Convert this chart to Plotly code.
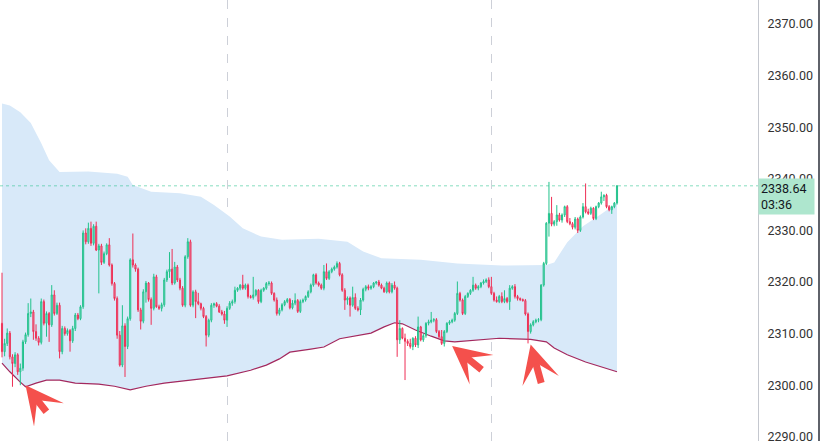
import plotly.graph_objects as go

# ---- price data (one candle per bar index) ----
opens = [2312.0, 2306.5, 2308.1, 2310.1, 2305.5, 2304.2, 2305.9, 2302.6, 2303.3, 2308.4,
         2309.8, 2313.9, 2314.2, 2310.4, 2309.1, 2308.3, 2316.2, 2312.0, 2313.9, 2311.7,
         2317.5, 2313.9, 2315.5, 2306.5, 2311.0, 2310.0, 2310.6, 2308.6, 2311.0, 2313.6,
         2312.9, 2315.2, 2329.5, 2327.8, 2330.4, 2327.5, 2330.8, 2326.2, 2327.0, 2323.8,
         2325.5, 2327.2, 2323.3, 2319.7, 2316.8, 2309.7, 2303.9, 2311.5, 2307.5, 2312.9,
         2324.3, 2323.3, 2322.5, 2314.6, 2312.4, 2318.1, 2319.8, 2316.6, 2314.9, 2321.0,
         2315.2, 2314.9, 2315.6, 2320.4, 2322.0, 2322.5, 2319.8, 2322.9, 2320.4, 2318.8,
         2315.5, 2324.9, 2327.8, 2315.5, 2318.1, 2316.2, 2315.8, 2314.9, 2313.3, 2309.7,
         2312.6, 2315.5, 2315.8, 2315.3, 2314.2, 2313.8, 2312.6, 2314.9, 2315.9, 2316.2,
         2318.4, 2318.8, 2319.4, 2318.8, 2319.4, 2317.2, 2317.0, 2317.5, 2318.4, 2316.2,
         2318.4, 2318.8, 2319.7, 2319.8, 2317.8, 2316.5, 2313.9, 2314.6, 2315.6, 2316.2,
         2316.6, 2315.0, 2315.9, 2316.4, 2314.3, 2316.2, 2316.5, 2317.2, 2318.1, 2319.4,
         2321.4, 2319.8, 2319.4, 2318.8, 2322.0, 2320.7, 2322.0, 2322.5, 2322.9, 2323.6,
         2321.4, 2318.4, 2316.5, 2316.9, 2315.5, 2317.0, 2314.9, 2314.6, 2316.5, 2318.6,
         2319.1, 2318.8, 2319.1, 2319.8, 2320.0, 2319.4, 2318.8, 2318.1, 2319.8, 2318.1,
         2319.4, 2318.8, 2308.8, 2311.0, 2309.1, 2308.5, 2308.1, 2307.5, 2309.1, 2307.8,
         2311.3, 2308.8, 2309.6, 2312.0, 2312.3, 2312.6, 2312.7, 2310.4, 2309.4, 2308.1,
         2310.4, 2312.0, 2312.3, 2312.6, 2313.9, 2317.8, 2316.5, 2313.9, 2317.2, 2317.8,
         2318.4, 2319.4, 2318.8, 2319.1, 2319.8, 2320.1, 2320.4, 2319.1, 2317.8, 2316.5,
         2316.2, 2317.2, 2316.2, 2316.8, 2316.2, 2318.8, 2319.1, 2317.2, 2316.8, 2316.6,
         2316.4, 2313.8, 2310.4, 2311.7, 2312.3, 2312.6, 2312.7, 2319.4, 2323.6, 2331.4,
         2333.3, 2331.2, 2331.7, 2333.0, 2332.0, 2333.0, 2334.6, 2331.7, 2331.3, 2330.6,
         2332.2, 2330.0, 2332.6, 2334.6, 2333.6, 2333.3, 2334.3, 2332.3, 2334.6, 2335.3,
         2336.5, 2336.8, 2334.6, 2334.0, 2334.6, 2335.3]
highs = [2321.8, 2309.0, 2311.0, 2310.5, 2306.0, 2306.4, 2306.2, 2304.2, 2308.8, 2310.2,
         2315.9, 2316.8, 2314.6, 2311.8, 2309.5, 2316.8, 2316.6, 2314.3, 2314.2, 2319.4,
         2318.4, 2316.0, 2316.0, 2311.5, 2311.4, 2311.0, 2310.9, 2311.5, 2314.0, 2314.0,
         2315.5, 2330.0, 2330.4, 2331.5, 2331.7, 2331.2, 2331.7, 2327.4, 2327.4, 2325.9,
         2327.5, 2328.5, 2323.6, 2320.0, 2317.2, 2310.5, 2315.5, 2312.0, 2313.3, 2324.6,
         2329.4, 2323.6, 2322.8, 2315.0, 2318.6, 2320.2, 2320.0, 2317.0, 2321.6, 2321.4,
         2315.6, 2316.0, 2320.8, 2322.4, 2325.8, 2326.4, 2323.9, 2323.3, 2320.8, 2319.2,
         2325.2, 2328.5, 2328.2, 2318.4, 2318.5, 2317.9, 2316.0, 2315.2, 2313.6, 2312.9,
         2315.9, 2316.0, 2316.1, 2315.7, 2314.6, 2314.4, 2315.3, 2316.3, 2316.6, 2319.1,
         2319.0, 2319.6, 2321.4, 2319.7, 2319.7, 2317.5, 2321.0, 2318.6, 2318.6, 2318.7,
         2319.0, 2320.0, 2320.2, 2320.1, 2318.0, 2317.0, 2315.0, 2315.9, 2316.5, 2316.9,
         2316.9, 2316.5, 2317.8, 2316.7, 2316.6, 2316.8, 2317.4, 2318.4, 2319.7, 2321.6,
         2321.7, 2320.1, 2319.7, 2323.3, 2323.6, 2322.3, 2322.8, 2323.2, 2324.0, 2323.9,
         2321.7, 2318.8, 2317.2, 2317.2, 2319.1, 2317.8, 2315.3, 2316.9, 2318.9, 2319.4,
         2319.5, 2319.4, 2320.0, 2320.2, 2320.4, 2319.7, 2319.1, 2320.1, 2320.1, 2319.8,
         2320.1, 2319.1, 2312.6, 2311.2, 2310.0, 2308.9, 2309.0, 2309.3, 2309.5, 2313.3,
         2311.5, 2310.0, 2312.2, 2312.7, 2314.2, 2313.0, 2313.0, 2310.7, 2310.7, 2310.7,
         2312.2, 2312.6, 2312.9, 2314.2, 2320.1, 2318.1, 2316.8, 2317.5, 2318.0, 2318.6,
         2321.0, 2319.7, 2319.4, 2320.0, 2320.5, 2320.7, 2320.9, 2321.0, 2318.1, 2317.2,
         2317.5, 2318.0, 2318.4, 2317.1, 2319.4, 2319.4, 2319.6, 2317.5, 2317.0, 2316.8,
         2316.7, 2314.1, 2312.0, 2312.6, 2312.9, 2313.0, 2319.6, 2323.9, 2331.6, 2339.4,
         2336.5, 2332.0, 2334.9, 2333.4, 2333.3, 2334.8, 2334.9, 2332.4, 2331.6, 2332.6,
         2332.5, 2332.9, 2335.3, 2339.1, 2334.2, 2334.6, 2334.5, 2334.8, 2335.5, 2337.5,
         2337.0, 2337.1, 2334.9, 2334.8, 2335.5, 2338.8]
lows = [2305.4, 2305.6, 2307.6, 2305.0, 2299.7, 2303.5, 2302.0, 2300.0, 2302.8, 2308.0,
        2309.4, 2313.2, 2308.8, 2308.6, 2307.7, 2307.9, 2311.6, 2309.4, 2308.4, 2311.3,
        2313.5, 2313.6, 2305.2, 2306.0, 2309.6, 2309.6, 2306.5, 2308.2, 2310.5, 2312.6,
        2312.6, 2314.8, 2327.3, 2327.4, 2327.0, 2327.1, 2326.0, 2317.8, 2323.3, 2323.5,
        2325.2, 2323.0, 2319.3, 2316.4, 2309.0, 2303.6, 2303.5, 2301.6, 2307.0, 2312.5,
        2322.8, 2322.0, 2314.2, 2310.8, 2312.0, 2316.0, 2316.2, 2311.7, 2314.5, 2315.0,
        2314.6, 2314.3, 2315.2, 2320.0, 2320.8, 2319.4, 2319.5, 2320.0, 2318.4, 2315.2,
        2315.1, 2324.5, 2315.2, 2315.1, 2313.0, 2315.5, 2314.5, 2313.0, 2307.5, 2309.3,
        2312.2, 2315.0, 2315.1, 2314.0, 2313.5, 2311.9, 2311.3, 2314.6, 2315.4, 2315.8,
        2318.1, 2318.4, 2318.5, 2318.5, 2316.8, 2316.8, 2316.6, 2317.2, 2315.8, 2315.9,
        2318.1, 2318.5, 2319.3, 2317.5, 2316.2, 2313.5, 2313.5, 2314.3, 2315.3, 2315.9,
        2314.7, 2314.7, 2315.5, 2314.0, 2314.0, 2315.9, 2316.2, 2316.9, 2317.8, 2319.1,
        2319.5, 2319.1, 2318.5, 2318.4, 2320.4, 2320.4, 2321.7, 2322.2, 2322.6, 2321.1,
        2318.1, 2314.6, 2315.6, 2313.3, 2315.2, 2314.6, 2314.3, 2313.6, 2316.2, 2318.2,
        2318.4, 2318.5, 2318.8, 2319.5, 2319.1, 2318.6, 2317.9, 2317.8, 2317.8, 2317.8,
        2318.5, 2305.5, 2308.0, 2308.9, 2301.0, 2307.6, 2307.1, 2306.8, 2307.4, 2307.2,
        2308.5, 2308.4, 2309.2, 2311.6, 2312.0, 2312.2, 2310.1, 2309.1, 2307.8, 2307.5,
        2310.1, 2311.7, 2312.0, 2312.3, 2313.6, 2316.2, 2313.6, 2313.6, 2316.9, 2317.5,
        2318.1, 2318.5, 2318.4, 2318.8, 2319.5, 2319.8, 2318.8, 2317.5, 2316.2, 2316.0,
        2315.9, 2315.9, 2315.9, 2315.9, 2314.6, 2318.5, 2316.8, 2316.4, 2316.3, 2316.2,
        2313.5, 2308.1, 2310.0, 2311.4, 2312.0, 2312.2, 2312.4, 2319.1, 2323.3, 2328.8,
        2330.8, 2330.8, 2330.9, 2331.7, 2331.5, 2332.6, 2331.4, 2331.0, 2330.2, 2330.2,
        2329.5, 2329.7, 2332.3, 2333.3, 2333.0, 2333.0, 2332.0, 2332.0, 2334.3, 2335.0,
        2335.7, 2334.3, 2333.7, 2333.2, 2334.3, 2335.0]
closes = [2306.5, 2308.1, 2310.1, 2305.5, 2304.2, 2305.9, 2302.6, 2303.3, 2308.4, 2309.8,
          2313.9, 2314.2, 2310.4, 2309.1, 2308.3, 2316.2, 2312.0, 2313.9, 2311.7, 2317.5,
          2313.9, 2315.5, 2306.5, 2311.0, 2310.0, 2310.6, 2308.6, 2311.0, 2313.6, 2312.9,
          2315.2, 2329.5, 2327.8, 2330.4, 2327.5, 2330.8, 2326.2, 2327.0, 2323.8, 2325.5,
          2327.2, 2323.3, 2319.7, 2316.8, 2309.7, 2303.9, 2311.5, 2307.5, 2312.9, 2324.3,
          2323.3, 2322.5, 2314.6, 2312.4, 2318.1, 2319.8, 2316.6, 2314.9, 2321.0, 2315.2,
          2314.9, 2315.6, 2320.4, 2322.0, 2322.5, 2319.8, 2322.9, 2320.4, 2318.8, 2315.5,
          2324.9, 2327.8, 2315.5, 2318.1, 2316.2, 2315.8, 2314.9, 2313.3, 2309.7, 2312.6,
          2315.5, 2315.8, 2315.3, 2314.2, 2313.8, 2312.6, 2314.9, 2315.9, 2316.2, 2318.4,
          2318.8, 2319.4, 2318.8, 2319.4, 2317.2, 2317.0, 2317.5, 2318.4, 2316.2, 2318.4,
          2318.8, 2319.7, 2319.8, 2317.8, 2316.5, 2313.9, 2314.6, 2315.6, 2316.2, 2316.6,
          2315.0, 2315.9, 2316.4, 2314.3, 2316.2, 2316.5, 2317.2, 2318.1, 2319.4, 2321.4,
          2319.8, 2319.4, 2318.8, 2322.0, 2320.7, 2322.0, 2322.5, 2322.9, 2323.6, 2321.4,
          2318.4, 2316.5, 2316.9, 2315.5, 2317.0, 2314.9, 2314.6, 2316.5, 2318.6, 2319.1,
          2318.8, 2319.1, 2319.8, 2320.0, 2319.4, 2318.8, 2318.1, 2319.8, 2318.1, 2319.4,
          2318.8, 2308.8, 2311.0, 2309.1, 2308.5, 2308.1, 2307.5, 2309.1, 2307.8, 2311.3,
          2308.8, 2309.6, 2312.0, 2312.3, 2312.6, 2312.7, 2310.4, 2309.4, 2308.1, 2310.4,
          2312.0, 2312.3, 2312.6, 2313.9, 2317.8, 2316.5, 2313.9, 2317.2, 2317.8, 2318.4,
          2319.4, 2318.8, 2319.1, 2319.8, 2320.1, 2320.4, 2319.1, 2317.8, 2316.5, 2316.2,
          2317.2, 2316.2, 2316.8, 2316.2, 2318.8, 2319.1, 2317.2, 2316.8, 2316.6, 2316.4,
          2313.8, 2310.4, 2311.7, 2312.3, 2312.6, 2312.7, 2319.4, 2323.6, 2331.4, 2333.3,
          2331.2, 2331.7, 2333.0, 2332.0, 2333.0, 2334.6, 2331.7, 2331.3, 2330.6, 2332.2,
          2330.0, 2332.6, 2334.6, 2333.6, 2333.3, 2334.3, 2332.3, 2334.6, 2335.3, 2336.5,
          2336.8, 2334.6, 2334.0, 2334.6, 2335.3, 2338.64]
bars = list(range(len(closes)))

# ---- envelope indicator, sampled at these bars ----
upper_bars = [0, 3, 7, 11, 15, 18, 22, 33, 44, 48, 50, 57, 68, 76, 81, 87, 92, 99, 107,
              121, 132, 138, 145, 160, 174, 191, 208, 211, 216, 222, 229, 235]
upper_vals = [2354.6, 2354.2, 2352.9, 2350.8, 2346.9, 2343.6, 2341.3, 2341.4, 2341.0,
              2340.4, 2338.8, 2337.5, 2337.2, 2336.5, 2334.9, 2332.7, 2330.4, 2328.8,
              2328.2, 2328.4, 2327.8, 2325.9, 2324.6, 2324.3, 2323.6, 2323.2, 2323.3,
              2323.8, 2327.7, 2330.8, 2333.2, 2335.3]
lower_bars = [0, 3, 7, 9, 13, 17, 22, 28, 37, 43, 49, 55, 62, 76, 86, 95, 101, 106, 110,
              118, 123, 129, 135, 141, 146, 150, 153, 158, 164, 169, 173, 179, 190, 202,
              208, 211, 216, 223, 229, 235]
lower_vals = [2304.3, 2302.6, 2300.6, 2299.7, 2300.4, 2301.0, 2301.0, 2300.4, 2300.2,
              2299.8, 2299.1, 2299.8, 2300.4, 2301.2, 2301.8, 2302.9, 2303.9, 2305.1,
              2306.4, 2307.0, 2307.4, 2309.0, 2309.5, 2310.1, 2311.3, 2312.1, 2311.9,
              2310.7, 2309.5, 2308.6, 2308.4, 2308.6, 2309.1, 2308.9, 2308.4, 2307.2,
              2305.9, 2304.5, 2303.5, 2302.6]

# ---- price axis ----
price_ticks = [2290, 2300, 2310, 2320, 2330, 2340, 2350, 2360, 2370]
price_range = [2289.19, 2374.65]
session_breaks = [86, 187]

last_price = closes[-1]
countdown = "03:36"

# callout arrows at the touches of the lower envelope
arrow_bars = [9, 172, 202]
arrow_prices = [2300.0, 2307.6, 2307.9]
arrow_dx = [22, 31, 11]
arrow_dy = [28, 25, 40]

UP = "#22C28C"
DOWN = "#EE2F55"
BAND_FILL = "#D8E9F9"
BAND_LINE = "#A3285E"

n = len(closes)
bar_px = 615 / (n - 1)
x_range = [-2 / bar_px, (758 - 2) / bar_px]

fig = go.Figure()

# envelope fill and its lower line
fig.add_trace(go.Scatter(x=lower_bars, y=lower_vals, mode="lines",
                         line=dict(width=0, color=BAND_FILL), hoverinfo="skip",
                         showlegend=False))
fig.add_trace(go.Scatter(x=upper_bars, y=upper_vals, mode="lines",
                         line=dict(width=0, color=BAND_FILL), fill="tonexty",
                         fillcolor=BAND_FILL, hoverinfo="skip", showlegend=False))
fig.add_trace(go.Scatter(x=lower_bars, y=lower_vals, mode="lines",
                         line=dict(width=1.2, color=BAND_LINE), hoverinfo="skip",
                         showlegend=False))

# candles on an overlaying axis pair so they sit above the envelope
fig.add_trace(go.Candlestick(
    x=bars, open=opens, high=highs, low=lows, close=closes,
    xaxis="x2", yaxis="y2",
    increasing=dict(line=dict(color=UP, width=1), fillcolor="rgba(34,194,140,0.35)"),
    decreasing=dict(line=dict(color=DOWN, width=1), fillcolor="rgba(238,47,85,0.35)"),
    whiskerwidth=0, showlegend=False, hoverinfo="skip"))

for bx, py, dx, dy in zip(arrow_bars, arrow_prices, arrow_dx, arrow_dy):
    fig.add_annotation(x=bx, y=py, xref="x", yref="y", ax=dx, ay=dy,
                       showarrow=True, arrowhead=3, arrowwidth=7, arrowsize=0.9,
                       arrowcolor="#F4504C", standoff=0, text="")

# last price line and tag
fig.add_shape(type="line", xref="paper", yref="y", x0=0, x1=1,
              y0=last_price, y1=last_price,
              line=dict(color="rgba(34,194,140,0.55)", width=1, dash="dot"))
fig.add_annotation(xref="paper", yref="y", x=1.0, y=last_price, xanchor="left",
                   yanchor="top", yshift=8, showarrow=False, align="left",
                   text=f"{last_price:.2f}<br>{countdown}",
                   font=dict(family="Roboto", size=12.5, color="#131722"),
                   bgcolor="#AEE6CE", borderpad=2, width=51)

# frame line at the far right edge
fig.add_shape(type="line", xref="paper", yref="paper", x0=819 / 758, x1=819 / 758,
              y0=0, y1=1, line=dict(color="#2A2E39", width=1.5))

fig.update_layout(
    width=820, height=441,
    margin=dict(l=0, r=62, t=0, b=0, autoexpand=False),
    paper_bgcolor="white", plot_bgcolor="white",
    showlegend=False, boxgap=0.4,
    xaxis=dict(range=x_range, tickvals=session_breaks, showticklabels=False,
               showgrid=True, gridcolor="#CDD0D8", griddash="dash", gridwidth=1,
               zeroline=False, showline=False, ticks="", fixedrange=True,
               automargin=False),
    xaxis2=dict(range=x_range, overlaying="x", visible=False,
                rangeslider=dict(visible=False)),
    yaxis=dict(range=price_range, side="right", tickvals=price_ticks,
               tickformat=".2f", showgrid=False, zeroline=False,
               showline=True, linecolor="#C5C8CF", linewidth=1, ticks="",
               ticklabelstandoff=6, ticklabeloverflow="allow", automargin=False,
               tickfont=dict(family="Roboto", size=12.5, color="#333333")),
    yaxis2=dict(range=price_range, overlaying="y", visible=False),
)

fig.write_html("out.html")
